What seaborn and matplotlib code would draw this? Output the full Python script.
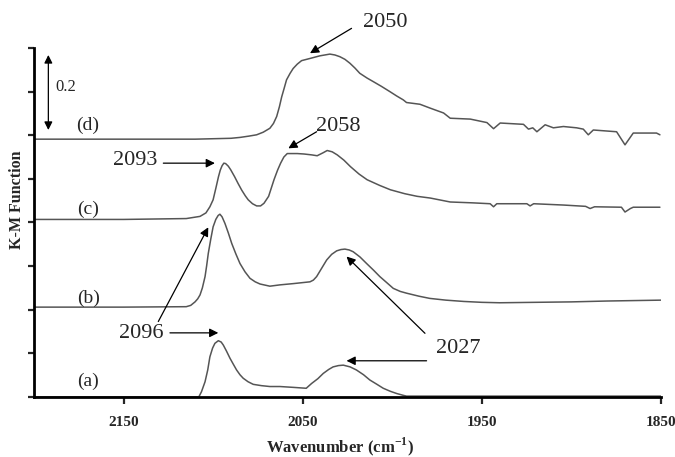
import matplotlib
matplotlib.use("Agg")
import matplotlib.pyplot as plt
import seaborn as sns
import pandas as pd
import numpy as np

# ---------------- data ----------------
wn_a = [2200, 2108, 2106.5, 2104.5, 2103, 2101.8, 2100.3, 2099, 2097.1, 2095.5, 2094.3, 2092.5,
        2090.6, 2088.7, 2086.9, 2085, 2083.2, 2080.5, 2077.6, 2073, 2068.3, 2062.7, 2055, 2048,
        2045, 2041.5, 2038.5, 2035.5, 2033, 2030, 2027.3, 2023.5, 2020, 2016, 2012.5, 2008.5,
        2005, 2001, 1997.5, 1994, 1992, 1850]
km_a = [0.0, 0.0, 0.012, 0.035, 0.062, 0.092, 0.112, 0.123, 0.129, 0.126, 0.119, 0.105,
        0.089, 0.075, 0.062, 0.051, 0.043, 0.035, 0.029, 0.026, 0.024, 0.024, 0.022, 0.020,
        0.031, 0.042, 0.054, 0.063, 0.069, 0.072, 0.073, 0.069, 0.062, 0.051, 0.039, 0.029,
        0.020, 0.013, 0.008, 0.004, 0.002, 0.002]

wn_b = [2200, 2150, 2115, 2112.5, 2110.1, 2108.6, 2107.3, 2106, 2104.5, 2103.6, 2102.7, 2101.3,
        2100, 2098.5, 2097.2, 2096.2, 2095, 2093.4, 2091.5, 2089.6, 2087.3, 2085, 2082.2, 2079.4,
        2076.5, 2073.8, 2068.3, 2062.7, 2055, 2045.9, 2044, 2042.2, 2039.4, 2036.6, 2033.8, 2031,
        2028.6, 2026.4, 2024, 2021.8, 2018, 2014.3, 2010.5, 2006.9, 2003, 1999.4, 1995.5, 1992,
        1985, 1979, 1970, 1960, 1950, 1940, 1920, 1900, 1880, 1865, 1850]
km_b = [0.206, 0.206, 0.207, 0.210, 0.218, 0.225, 0.234, 0.250, 0.276, 0.301, 0.329, 0.362,
        0.390, 0.407, 0.416, 0.419, 0.413, 0.398, 0.376, 0.352, 0.328, 0.306, 0.287, 0.272,
        0.264, 0.259, 0.254, 0.257, 0.260, 0.264, 0.268, 0.276, 0.295, 0.314, 0.327, 0.335,
        0.338, 0.339, 0.337, 0.333, 0.321, 0.306, 0.291, 0.276, 0.262, 0.249, 0.242, 0.238,
        0.231, 0.226, 0.222, 0.219, 0.217, 0.216, 0.217, 0.218, 0.220, 0.221, 0.222]

wn_c = [2200, 2150, 2115, 2107.3, 2104, 2101.8, 2100, 2098.5, 2097, 2096, 2095, 2094, 2093,
        2091.5, 2090.2, 2088, 2086, 2084, 2082, 2080.4, 2078, 2075.7, 2073.5, 2071.6, 2069, 2066,
        2064, 2062.3, 2060.5, 2058.6, 2053, 2049.3, 2045, 2041.9, 2038.5, 2036.3, 2033.5, 2030.7,
        2027, 2023.3, 2018.5, 2014, 2007, 2001, 1993, 1986.1, 1978.7, 1967.6, 1955, 1945.3, 1943.4,
        1941.6, 1924.8, 1923, 1921, 1904.4, 1892, 1889.5, 1887, 1872, 1870, 1867, 1865.4, 1850.5]
km_c = [0.407, 0.407, 0.409, 0.414, 0.422, 0.436, 0.452, 0.478, 0.505, 0.520, 0.530, 0.536, 0.535,
        0.529, 0.521, 0.505, 0.489, 0.474, 0.461, 0.452, 0.443, 0.438, 0.438, 0.444, 0.460, 0.498,
        0.520, 0.536, 0.550, 0.558, 0.558, 0.557, 0.555, 0.553, 0.560, 0.565, 0.562, 0.555,
        0.543, 0.528, 0.511, 0.498, 0.485, 0.475, 0.466, 0.460, 0.456, 0.447, 0.445, 0.443, 0.436,
        0.443, 0.443, 0.438, 0.443, 0.440, 0.437, 0.432, 0.436, 0.435, 0.424, 0.432, 0.435, 0.435]

wn_d = [2200, 2150, 2110, 2090, 2085, 2080, 2075.7, 2072, 2068.3, 2066.3, 2064.5, 2063, 2061.7,
        2060.3, 2059, 2057, 2055.3, 2053, 2050.6, 2045.9, 2040.4, 2034.8, 2032, 2029.2, 2026.4,
        2023.6, 2020.8, 2018.1, 2014, 2010.6, 2006, 2001.3, 1997.5, 1993.8, 1992, 1984.5, 1978.7,
        1971.3, 1967.6, 1956.4, 1947.1, 1943.4, 1939.7, 1926.7, 1923.9, 1921.5, 1919.2, 1914.6,
        1910, 1904.4, 1897, 1893.3, 1890.5, 1887.7, 1874.7, 1870, 1865.4, 1852.4, 1850.5]
km_d = [0.591, 0.591, 0.591, 0.593, 0.595, 0.598, 0.601, 0.607, 0.616, 0.627, 0.643, 0.665, 0.688,
        0.708, 0.727, 0.742, 0.753, 0.763, 0.771, 0.776, 0.782, 0.786, 0.784, 0.780, 0.774,
        0.765, 0.754, 0.742, 0.731, 0.723, 0.712, 0.700, 0.690, 0.681, 0.675, 0.671, 0.662,
        0.651, 0.639, 0.637, 0.629, 0.615, 0.628, 0.625, 0.614, 0.617, 0.608, 0.624,
        0.617, 0.620, 0.617, 0.614, 0.601, 0.612, 0.608, 0.578, 0.605, 0.605, 0.601]

series_labels = ["(a)", "(b)", "(c)", "(d)"]
label_km = [0.037, 0.227, 0.429, 0.623]

peak_labels = ["2050", "2058", "2093", "2096", "2027"]
x_ticks = [2150, 2050, 1950, 1850]

# ---------------- figure ----------------
sns.set_style("ticks")
plt.rcParams["font.family"] = ["Liberation Serif", "DejaVu Serif"]
plt.rcParams["mathtext.fontset"] = "custom"
plt.rcParams["mathtext.rm"] = "Liberation Serif"
plt.rcParams["mathtext.bf"] = "Liberation Serif:bold"

fig = plt.figure(figsize=(6.75, 4.57), dpi=100)
ax = fig.add_axes([0.0504, 0.1313, 0.9286, 0.7637])

frames = []
for name, wn, km in zip(series_labels, [wn_a, wn_b, wn_c, wn_d], [km_a, km_b, km_c, km_d]):
    frames.append(pd.DataFrame({"wn": wn, "km": km, "series": name}))
df = pd.concat(frames, ignore_index=True)

for name in series_labels:
    sub = df[df["series"] == name]
    sns.lineplot(data=sub, x="wn", y="km", ax=ax, color="#555555", lw=1.1,
                 sort=False, estimator=None, legend=False)

ax.set_xlim(2200, 1850)
ax.set_ylim(0, 0.8)
ax.set_xticks(x_ticks)
ax.set_xticklabels([str(t) for t in x_ticks], fontsize=11, fontweight="bold")
ax.set_yticks(np.round(np.arange(0, 0.81, 0.1), 2))
ax.set_yticklabels([])
ax.tick_params(axis="x", direction="out", length=5, width=1.6, pad=9)
ax.tick_params(axis="y", direction="out", length=4, width=1.6)
sns.despine(ax=ax, top=True, right=True)
for s in ["left", "bottom"]:
    ax.spines[s].set_linewidth(2.0)
    ax.spines[s].set_color("black")

ax.set_xlabel("Wavenumber (cm$^{\\mathbf{-1}}$)", fontsize=12, fontweight="bold")
ax.set_ylabel("K-M Function", fontsize=11.5, fontweight="bold")
ax.xaxis.set_label_coords(0.488, -0.11)
ax.yaxis.set_label_coords(-0.0144, 0.564)

# curve labels
for lab, y in zip(series_labels, label_km):
    ax.text(2169.8, y, lab, fontsize=14, ha="center", va="center")

# scale bar
ax.annotate("", xy=(2192, 0.784), xytext=(2192, 0.612),
            arrowprops=dict(arrowstyle="<|-|>", color="black", lw=0.9,
                            mutation_scale=12, shrinkA=0, shrinkB=0))
ax.text(2188, 0.711, "0.2", fontsize=12, ha="left", va="center")

arrow_kw = dict(arrowstyle="-|>", color="black", lw=0.9, mutation_scale=13,
                shrinkA=0, shrinkB=0)

# 2050
ax.text(2004.1, 0.858, peak_labels[0], fontsize=16, ha="center", va="center")
ax.annotate("", xy=(2045.9, 0.788), xytext=(2022.7, 0.845), arrowprops=arrow_kw)
# 2058
ax.text(2030.3, 0.620, peak_labels[1], fontsize=16, ha="center", va="center")
ax.annotate("", xy=(2058.0, 0.570), xytext=(2042.2, 0.608), arrowprops=arrow_kw)
# 2093
ax.text(2143.6, 0.543, peak_labels[2], fontsize=16, ha="center", va="center")
ax.annotate("", xy=(2099.0, 0.536), xytext=(2127.8, 0.536), arrowprops=arrow_kw)
# 2096
ax.text(2139.9, 0.146, peak_labels[3], fontsize=16, ha="center", va="center")
ax.annotate("", xy=(2097.1, 0.147), xytext=(2124.1, 0.147), arrowprops=arrow_kw)
ax.annotate("", xy=(2102.7, 0.389), xytext=(2130.6, 0.173), arrowprops=arrow_kw)
# 2027
ax.text(1963.2, 0.112, peak_labels[4], fontsize=16, ha="center", va="center")
ax.annotate("", xy=(2025.5, 0.322), xytext=(1981.7, 0.146), arrowprops=arrow_kw)
ax.annotate("", xy=(2025.5, 0.083), xytext=(1980.8, 0.083), arrowprops=arrow_kw)

fig.savefig("out.png", dpi=100, facecolor="white")
